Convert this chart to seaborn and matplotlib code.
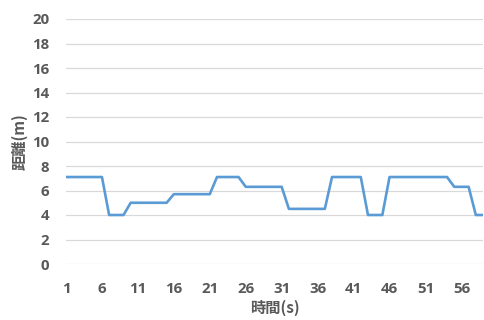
import matplotlib
matplotlib.use("Agg")
import matplotlib.pyplot as plt
import seaborn as sns
import pandas as pd

time_s = list(range(1, 60))
distance_m = ([7.1]*6 + [4.0]*3 + [5.0]*6 + [5.7]*6 + [7.1]*4 + [6.3]*6 +
              [4.5]*6 + [7.1]*5 + [4.0]*3 + [7.1]*9 + [6.3]*3 + [4.0]*2)
x_ticks = list(range(1, 60, 5))
y_ticks = list(range(0, 21, 2))

df = pd.DataFrame({"time": time_s, "dist": distance_m})

sns.set_style("white")
plt.rcParams['font.family'] = ['Open Sans', 'Noto Sans CJK JP', 'DejaVu Sans']

fig = plt.figure(figsize=(4.85, 3.2), dpi=100)
ax = fig.add_axes([66/485, 56/320, (483-66)/485, (264-19)/320])

sns.lineplot(data=df, x="time", y="dist", ax=ax, color="#5B9BD5", linewidth=1.9)

ax.set_xlim(1, 59)
ax.set_ylim(0, 20)
ax.set_xticks(x_ticks)
ax.set_yticks(y_ticks)
ax.grid(axis="y", color="#D9D9D9", linewidth=0.9)
ax.set_axisbelow(True)
for s in ax.spines.values():
    s.set_visible(False)
ax.tick_params(axis="both", length=0, labelsize=10.8, labelcolor="#595959")
ax.tick_params(axis="x", pad=13)
ax.tick_params(axis="y", pad=12)
for lbl in ax.get_xticklabels() + ax.get_yticklabels():
    lbl.set_fontweight("bold")

ax.set_xlabel("時間(s)", fontsize=11, fontweight="bold", color="#595959",
              family=['Noto Sans CJK JP', 'Open Sans'], labelpad=3)
ax.set_ylabel("距離(m)", fontsize=11, fontweight="bold", color="#595959",
              family=['Noto Sans CJK JP', 'Open Sans'], labelpad=3)

fig.savefig("out.png", dpi=100)
